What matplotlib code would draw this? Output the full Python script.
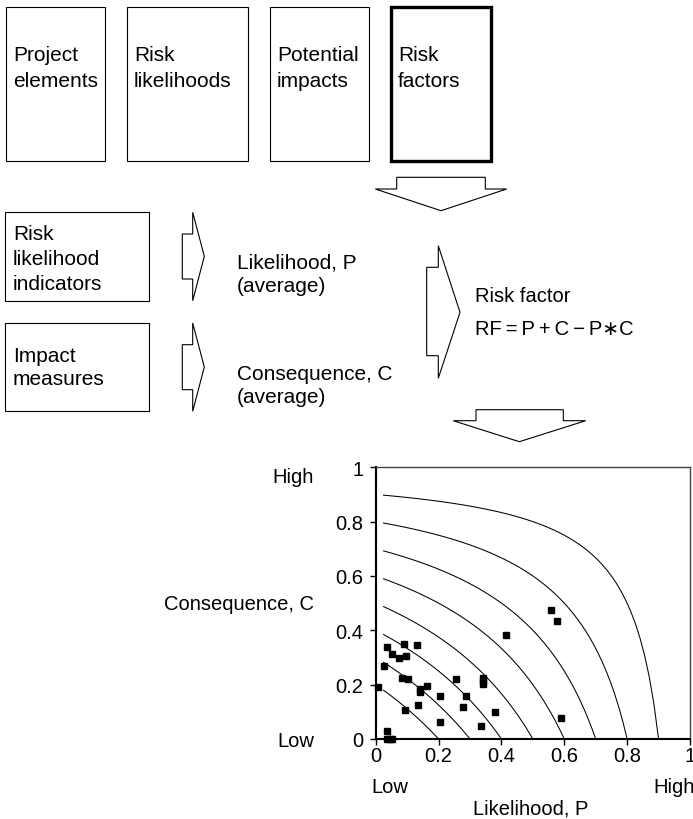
import numpy as np
import matplotlib
matplotlib.use("Agg")
import matplotlib.pyplot as plt
from matplotlib.patches import Rectangle, Polygon

plt.rcParams['font.family'] = ['Liberation Sans', 'DejaVu Sans']

# ---------------- data ----------------
top_labels = [["Project", "elements"], ["Risk", "likelihoods"],
              ["Potential", "impacts"], ["Risk", "factors"]]
rf_levels = [0.2, 0.3, 0.4, 0.5, 0.6, 0.7, 0.8, 0.9]
likelihood_p = [0.007, 0.027, 0.036, 0.052, 0.073, 0.090, 0.097, 0.131,
                0.084, 0.102, 0.093, 0.134, 0.141, 0.141, 0.162, 0.205,
                0.205, 0.256, 0.277, 0.288, 0.335, 0.342, 0.342, 0.342,
                0.380, 0.415, 0.558, 0.576, 0.589, 0.036, 0.037, 0.045, 0.052]
consequence_c = [0.193, 0.270, 0.339, 0.314, 0.297, 0.351, 0.304, 0.346,
                 0.225, 0.221, 0.107, 0.126, 0.184, 0.172, 0.194, 0.160,
                 0.064, 0.222, 0.119, 0.160, 0.049, 0.226, 0.212, 0.202,
                 0.101, 0.383, 0.476, 0.434, 0.079, 0.031, 0.0, 0.0, 0.0]
ticks = [0, 0.2, 0.4, 0.6, 0.8, 1]
tick_labels = ["0", "0.2", "0.4", "0.6", "0.8", "1"]

W, H = 693, 820
fig = plt.figure(figsize=(W / 100, H / 100), dpi=100)
bg = fig.add_axes([0, 0, 1, 1])
bg.set_xlim(0, W)
bg.set_ylim(H, 0)
bg.axis('off')

FS = 15
thin = 0.8

# top row of boxes
top_boxes = [(6, 105.3), (127, 248.3), (270, 369.3), (391, 491)]
for i, ((x0, x1), lines) in enumerate(zip(top_boxes, top_labels)):
    lw = 2.4 if i == 3 else thin
    bg.add_patch(Rectangle((x0, 8), x1 - x0, 162.3 - 8, fill=False,
                           ec='black', lw=lw, joinstyle='miter'))
    for j, t in enumerate(lines):
        bg.text(x0 + 7, 61 + 25.7 * j, t, fontsize=FS, va='baseline', ha='left')

# second-row boxes
bg.add_patch(Rectangle((5.3, 213.3), 143.4, 88.4, fill=False, ec='black', lw=thin))
for j, t in enumerate(["Risk", "likelihood", "indicators"]):
    bg.text(13, 240 + 25 * j, t, fontsize=FS, va='baseline')
bg.add_patch(Rectangle((5.3, 324), 143.4, 87.7, fill=False, ec='black', lw=thin))
for j, t in enumerate(["Impact", "measures"]):
    bg.text(13, 361.7 + 23.5 * j, t, fontsize=FS, va='baseline')

# arrows
def right_arrow(y_top, x_stem, x_head, x_tip, stem_top, stem_bot, y_bot, y_tip):
    pts = [(x_stem, stem_top), (x_head, stem_top), (x_head, y_top), (x_tip, y_tip),
           (x_head, y_bot), (x_head, stem_bot), (x_stem, stem_bot)]
    bg.add_patch(Polygon(pts, closed=True, fc='white', ec='black', lw=thin))

right_arrow(213.3, 182.3, 192.7, 204.3, 235, 280, 301.7, 257.3)
right_arrow(324, 182.3, 192.7, 204.3, 345.7, 390.7, 412.3, 368)
right_arrow(246.7, 426.7, 438.3, 460, 268.3, 356.7, 379.3, 313.3)

def down_arrow(xs0, xs1, y_top, y_sh, xw0, xw1, x_tip, y_tip):
    pts = [(xs0, y_top), (xs1, y_top), (xs1, y_sh), (xw1, y_sh), (x_tip, y_tip),
           (xw0, y_sh), (xs0, y_sh)]
    bg.add_patch(Polygon(pts, closed=True, fc='white', ec='black', lw=thin))

down_arrow(396.7, 485.3, 178.3, 190, 375.3, 506.7, 441, 211.7)
down_arrow(476, 563.3, 410.7, 421.7, 453.3, 585.7, 519.3, 442.7)

# middle texts
bg.text(237, 268.3, "Likelihood, P", fontsize=FS, va='baseline')
bg.text(237, 291.7, "(average)", fontsize=FS, va='baseline')
bg.text(237, 380, "Consequence, C", fontsize=FS, va='baseline')
bg.text(237, 403.3, "(average)", fontsize=FS, va='baseline')
bg.text(475, 302.3, "Risk factor", fontsize=FS - 0.5, va='baseline')
bg.text(475, 335, "RF\u2009=\u2009P\u2009+\u2009C\u2009\u2212\u2009P\u2217C", fontsize=FS - 0.5,
        va='baseline')

# plot labels
bg.text(314, 483.3, "High", fontsize=FS - 0.5, ha='right', va='baseline')
bg.text(314, 610, "Consequence, C", fontsize=FS - 0.5, ha='right', va='baseline')
bg.text(314, 747, "Low", fontsize=FS - 0.5, ha='right', va='baseline')
bg.text(371.5, 793, "Low", fontsize=FS - 0.5, ha='left', va='baseline')
bg.text(653.3, 793, "High", fontsize=FS - 0.5, ha='left', va='baseline')
bg.text(531, 815, "Likelihood, P", fontsize=FS - 0.5, ha='center', va='baseline')

# scatter axes
x0p, x1p, y0p, y1p = 375.7, 690, 468.3, 740
ax = fig.add_axes([x0p / W, (H - y1p) / H, (x1p - x0p) / W, (y1p - y0p) / H])
ax.set_facecolor('none')
ax.set_xlim(0, 1)
ax.set_ylim(0, 1)
for lvl in rf_levels:
    p = np.linspace(0.025, lvl, 60)
    c = (lvl - p) / (1 - p)
    ax.plot(p, c, color='black', lw=0.75)
ax.plot(likelihood_p, consequence_c, 's', color='black', ms=4.4, clip_on=False, zorder=5)

for s in ['left', 'bottom']:
    ax.spines[s].set_linewidth(1.5)
    ax.spines[s].set_color('black')
for s in ['top', 'right']:
    ax.spines[s].set_linewidth(1.0)
    ax.spines[s].set_color('#444444')
ax.set_xticks(ticks)
ax.set_xticklabels(tick_labels)
ax.set_yticks(ticks)
ax.set_yticklabels(tick_labels)
ax.tick_params(axis='both', labelsize=FS - 0.5, width=1, length=4, direction='out')
ax.tick_params(axis='x', pad=1)
ax.tick_params(axis='y', pad=5)

fig.savefig("out.png", dpi=100)
